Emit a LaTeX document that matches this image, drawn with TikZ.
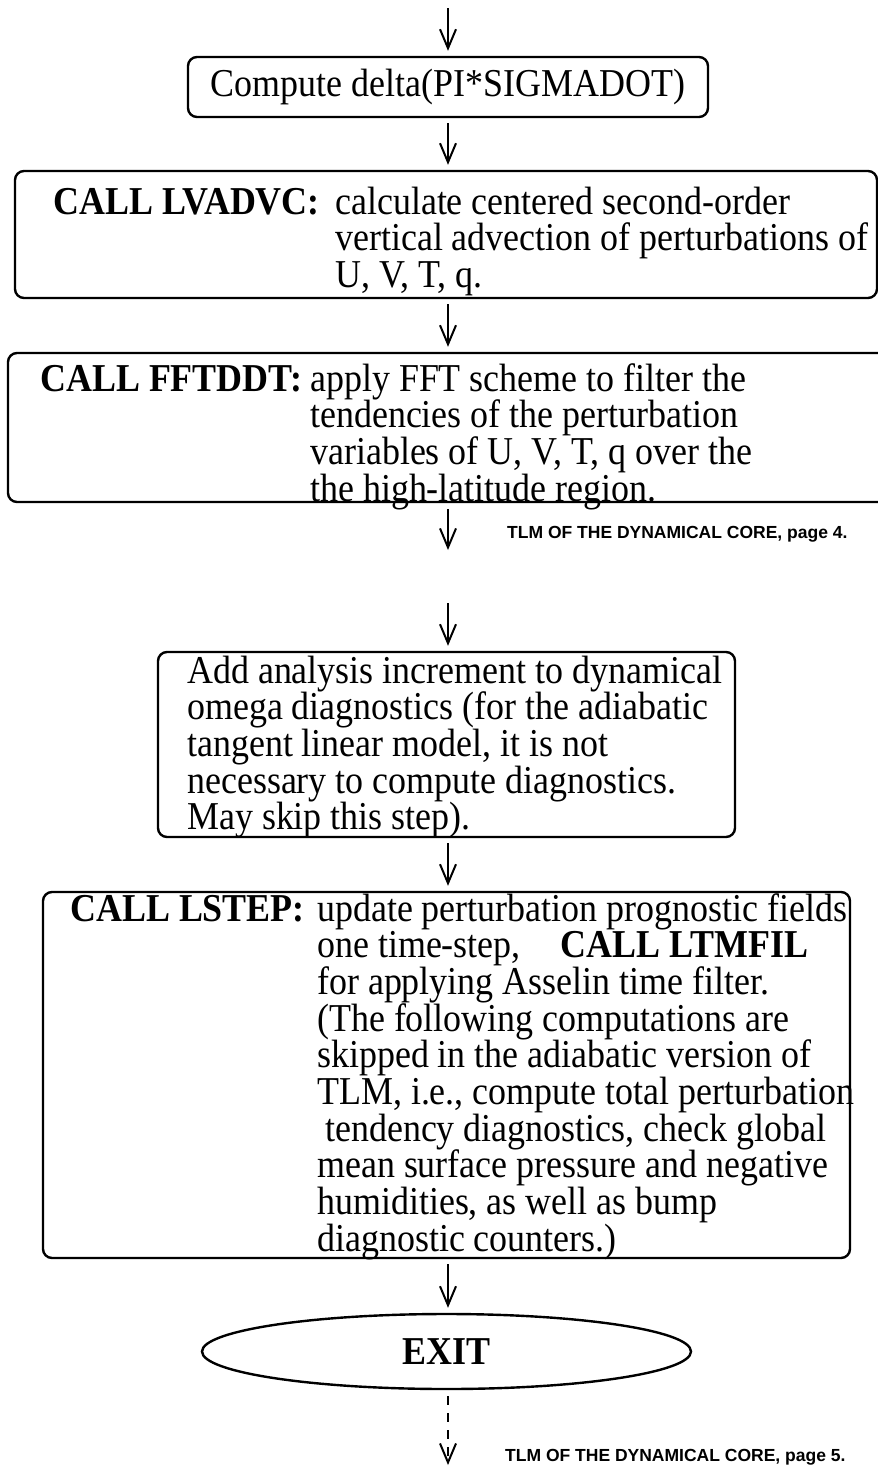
\documentclass[tikz,border=0pt]{standalone}
\usepackage{fontspec}
% slightly narrowed serif: tall letters at the set width
\setmainfont{Liberation Serif}[FakeStretch=0.91]
\newfontfamily\notefont{Liberation Sans}
\usetikzlibrary{arrows.meta,shapes.geometric}
% left-aligned block of evenly spaced lines; its baseline is that of its first line
\newcommand\boxlines[1]{\parbox[t]{600pt}{\raggedright\lineskiplimit=-\maxdimen #1}}

\begin{document}
\begin{tikzpicture}[x=1pt,y=-1pt,
  flowbox/.style={draw, line width=2.4pt, rounded corners=9pt, inner sep=0pt},
  endbox/.style={draw, ellipse, line width=2.4pt, inner sep=0pt,
    font=\bfseries\fontsize{39.5}{39.5}\selectfont},
  body/.style={inner sep=0pt, anchor=base west, font=\fontsize{39.5}{36.7}\selectfont},
  flow/.style={line width=2pt, -{Straight Barb[length=19pt,width=16pt,line width=2pt]}},
  pagenote/.style={inner sep=0pt, anchor=base west,
    font=\notefont\bfseries\fontsize{17.5}{20}\selectfont}]

\useasboundingbox (0,0) rectangle (878,1467);

% ---- boxes ----
\node[flowbox, minimum width=520pt, minimum height=60pt,
      font=\fontsize{39.5}{36.7}\selectfont] (b1) at (448,87) {Compute delta(PI*SIGMADOT)};

\node[flowbox, minimum width=862pt, minimum height=127pt] (b2) at (446,234.5) {};
\node[body] (l2) at (53,214) {\bfseries CALL LVADVC:};
\node[body] (t2) at (335,214) {\boxlines{calculate centered second-order\\
  vertical advection of perturbations of\\
  U, V, T, q.}};

\node[flowbox, minimum width=882pt, minimum height=149pt] (b3) at (449,427.5) {};
\node[body] (l3) at (40,391) {\bfseries CALL FFTDDT:};
\node[body] (t3) at (310,391) {\boxlines{apply FFT scheme to filter the\\
  tendencies of the perturbation\\
  variables of U, V, T, q over the\\
  the high-latitude region.}};

\node[flowbox, minimum width=577pt, minimum height=185pt] (b4) at (446.5,744.5) {};
\node[body] (t4) at (187,683) {\boxlines{Add analysis increment to dynamical\\
  omega diagnostics (for the adiabatic\\
  tangent linear model, it is not\\
  necessary to compute diagnostics.\\
  May skip this step).}};

\node[flowbox, minimum width=807pt, minimum height=366pt] (b5) at (446.5,1075) {};
\node[body] (l5) at (70,921) {\bfseries CALL LSTEP:};
\node[body] (t5) at (317,921) {\boxlines{update perturbation prognostic fields\\
  one time-step,\hspace*{40pt}{\bfseries CALL LTMFIL}\\
  for applying Asselin time filter.\\
  (The following computations are\\
  skipped in the adiabatic version of\\
  TLM, i.e., compute total perturbation\\
  \hspace*{8pt}tendency diagnostics, check global\\
  mean surface pressure and negative\\
  humidities, as well as bump\\
  diagnostic counters.)}};

\node[endbox, minimum width=489pt, minimum height=75pt] (ex) at (446.5,1351.5) {EXIT};

% ---- connectors ----
\coordinate (in0) at (448,8);
\coordinate (out4) at (448,550);
\coordinate (in5) at (448,603);
\coordinate (out5) at (448,1465);

\draw[flow, shorten >=5pt] (in0) -- (b1.north);
\draw[flow, shorten <=5pt, shorten >=5pt] (b1.south) -- (in0 |- b2.north);
\draw[flow, shorten <=5pt, shorten >=5pt] (in0 |- b2.south) -- (in0 |- b3.north);
\draw[flow, shorten <=6pt] (in0 |- b3.south) -- (out4);

\draw[flow, shorten >=5pt] (in5) -- (in5 |- b4.north);
\draw[flow, shorten <=5pt, shorten >=5pt] (in5 |- b4.south) -- (in5 |- b5.north);
\draw[flow, shorten <=5pt, shorten >=5pt] (in5 |- b5.south) -- (in5 |- ex.north);
\draw[flow, dash pattern=on 9pt off 8pt, shorten <=6pt] (in5 |- ex.south) -- (out5);

% ---- page notes ----
\node[pagenote] (p4) at (507,538) {TLM OF THE DYNAMICAL CORE, page 4.};
\node[pagenote] (p5) at (505,1461) {TLM OF THE DYNAMICAL CORE, page 5.};

\end{tikzpicture}
\end{document}
